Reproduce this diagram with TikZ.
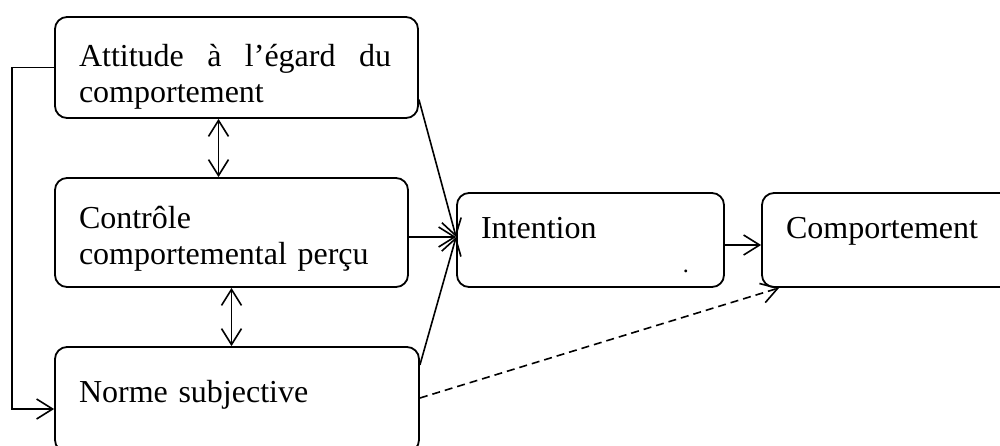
\documentclass[tikz,border=0pt]{standalone}
\usepackage{fontspec}
\setmainfont{Liberation Serif}
\usetikzlibrary{arrows.meta}

\tikzset{
  boite/.style={draw, rounded corners=6pt, line width=0.9pt, align=left,
    inner xsep=12pt, inner ysep=0pt, font=\fontsize{16}{18}\selectfont},
  fleche/.style={line width=0.8pt, -{Straight Barb[length=8pt,width=10pt]}},
  double fleche/.style={line width=0.8pt,
    {Straight Barb[length=8pt,width=10pt]}-{Straight Barb[length=8pt,width=10pt]}},
}

\begin{document}
\begin{tikzpicture}[x=0.5pt, y=-0.5pt]
            \path[use as bounding box, clip] (0, 0) rectangle (1000, 445);

            % les cinq boites
            \node[boite, text width=157.5pt, minimum height=50.5pt, text height=11pt, text depth=12.5pt]
                (attitude) at (236.5, 67.5) {\makebox[156pt][s]{Attitude\hfill à\hfill l’égard\hfill du}\\comportement};
            \node[boite, text width=152.5pt, minimum height=54.5pt, text height=11pt, text depth=15.5pt]
                (controle) at (231.5, 232.5) {Contrôle\\comportemental perçu};
            \node[boite, text width=158pt, minimum height=52.5pt, text height=11pt, text depth=8.5pt]
                (norme) at (237, 399.5) {Norme subjective};
            \node[boite, text width=109.5pt, minimum height=47pt, text height=11pt, text depth=13pt]
                (intention) at (590.5, 240) {Intention};
            \node[boite, text width=101pt, minimum height=47pt, text height=11pt, text depth=13pt]
                (comportement) at (887, 240) {Comportement};
            \node[font=\fontsize{12}{14}\selectfont, inner sep=0pt, anchor=base]
                (point) at ([xshift=-19.5pt, yshift=7.5pt]intention.south east) {.};

            \coordinate (cible) at ([yshift=1.5pt]intention.west);

            % fleches
            \draw[fleche] (attitude.west) -- ++(-42, 0) |- ([yshift=-4.75pt]norme.west);
            \draw[double fleche] ([xshift=-9pt]attitude.south) -- ([xshift=-9pt]attitude.south |- controle.north);
            \draw[double fleche] (controle.south) -- (controle.south |- norme.north);
            \draw[fleche] ([yshift=-16pt]attitude.east) -- (cible);
            \draw[fleche] (controle.east |- cible) -- (cible);
            \draw[fleche] ([yshift=17.25pt]norme.east) -- (cible);
            \draw[fleche] ([yshift=-2.5pt]intention.east) -- ([yshift=-2.5pt]comportement.west);
            \draw[fleche, dash pattern=on 4pt off 2.5pt] ([yshift=0.75pt]norme.east) -- ([xshift=9pt]comportement.south west);
        \end{tikzpicture}
\end{document}
